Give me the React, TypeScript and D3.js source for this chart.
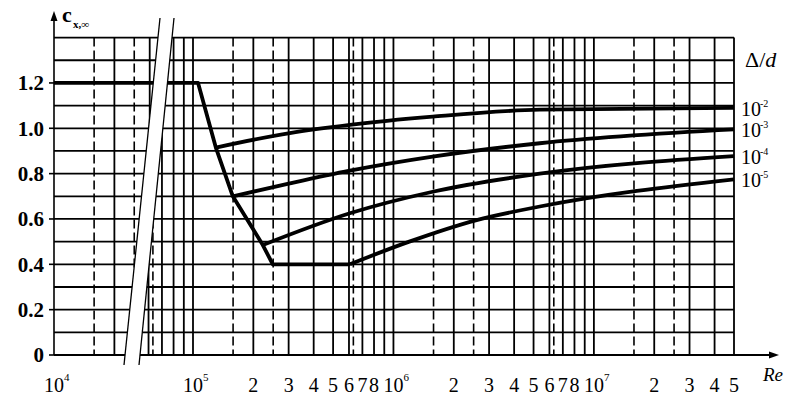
import React from 'react';
import * as d3 from 'd3';

// drag coefficient of a cylinder vs Reynolds number, for several relative roughness values

// smooth-part curve (left of the axis break, and the common descending branch)
const mainLeftRe = [1e4, 4e4];
const mainLeftCx = [1.2, 1.2];
const mainRe = [5e4, 1.06e5, 1.3e5, 1.58e5, 2.23e5, 2.5e5, 6.06e5];
const mainCx = [1.2, 1.2, 0.915, 0.7, 0.485, 0.4, 0.4];

// roughness branches Δ/d
const roughExp = ['-2', '-3', '-4', '-5'];
const roughRe = [
  [1.3e5, 3.04e5, 6.06e5, 1.57e6, 5.37e6, 5e7],
  [1.58e5, 3.04e5, 6.06e5, 1.57e6, 5.37e6, 5e7],
  [2.23e5, 6.06e5, 1.57e6, 5.37e6, 5e7],
  [6.06e5, 1.2e6, 2.6e6, 5.37e6, 5e7],
];
const roughCx = [
  [0.915, 0.979, 1.015, 1.051, 1.082, 1.09],
  [0.7, 0.757, 0.813, 0.875, 0.934, 0.995],
  [0.485, 0.625, 0.72, 0.8, 0.877],
  [0.4, 0.5, 0.595, 0.655, 0.775],
];

// axis ticks
const yTickVals = [0, 0.2, 0.4, 0.6, 0.8, 1.0, 1.2];
const yTickText = ['0', '0.2', '0.4', '0.6', '0.8', '1.0', '1.2'];
const yGridVals = [0, 0.1, 0.2, 0.3, 0.4, 0.5, 0.6, 0.7, 0.8, 0.9, 1.0, 1.1, 1.2, 1.3, 1.4];
const mantissas = [1, 2, 3, 4, 5, 6, 7, 8, 9];
const dashedFrac = [0.2, 0.4, 0.8];
const decades = [4, 5, 6, 7];
const leftLabelVals = [1e4];
const leftLabelText = ['10'];
const leftLabelSup = ['4'];
const rightLabelVals = [1e5, 2e5, 3e5, 4e5, 5e5, 6e5, 7e5, 8e5, 1e6, 2e6, 3e6, 4e6, 5e6, 6e6, 7e6, 8e6, 1e7, 2e7, 3e7, 4e7, 5e7];
const rightLabelText = ['10', '2', '3', '4', '5', '6', '7', '8', '10', '2', '3', '4', '5', '6', '7', '8', '10', '2', '3', '4', '5'];
const rightLabelSup = ['5', '', '', '', '', '', '', '', '6', '', '', '', '', '', '', '', '7', '', '', '', ''];

const FONT = "'Liberation Serif', 'Times New Roman', 'DejaVu Serif', serif";
const tf = { fontFamily: FONT };

const App: React.FC = () => {
  const W = 804;
  const H = 407;

  const xL = d3.scaleLog().domain([1e4, 1e5]).range([54, 254.6]);
  const xR = d3.scaleLog().domain([1e5, 5e7]).range([193, 734]);
  const y = d3.scaleLinear().domain([0, 1.4]).range([355, 37.6]);

  const x0 = xL(1e4);
  const xEnd = xR(5e7);
  const yTop = y(1.4);
  const yBot = y(0);

  // the two slanted lines of the axis break
  const b1 = { xa: 124, ya: 365, xb: 160, yb: 18 };
  const b2 = { xa: 139, ya: 365, xb: 174, yb: 18 };
  const xAt = (b: typeof b1, yy: number) => b.xa + ((b.xb - b.xa) * (yy - b.ya)) / (b.yb - b.ya);

  const mkLine = (sx: (v: number) => number, curve = d3.curveMonotoneX) =>
    d3.line<[number, number]>().x(d => sx(d[0])).y(d => y(d[1])).curve(curve);

  const zip = (a: number[], b: number[]) => a.map((v, i) => [v, b[i]] as [number, number]);

  const leftSolid = mantissas.map(m => m * 1e4).filter(v => v > 1e4 && v < 5e4);
  const leftDashed = dashedFrac.map(f => Math.pow(10, 4 + f));
  const rightSolid: number[] = [];
  const rightDashed: number[] = [];
  decades.forEach(d => {
    mantissas.forEach(m => {
      const v = m * Math.pow(10, d);
      if (v >= 5e4 && v <= 5e7) rightSolid.push(v);
    });
    dashedFrac.forEach(f => {
      const v = Math.pow(10, d + f);
      if (v >= 5e4 && v <= 5e7) rightDashed.push(v);
    });
  });

  const gridW = 1.8;
  const curveW = 3.8;

  return (
    <svg
      width={W}
      height={H}
      viewBox={`0 0 ${W} ${H}`}
      style={{ position: 'absolute', left: 0, top: 0, background: '#fff' }}
    >
      <defs>
        <clipPath id="clipL">
          <path d={`M0,0 L${xAt(b1, 0)},0 L${xAt(b1, H)},${H} L0,${H} Z`} />
        </clipPath>
        <clipPath id="clipR">
          <path d={`M${xAt(b2, 0)},0 L${W},0 L${W},${H} L${xAt(b2, H)},${H} Z`} />
        </clipPath>
      </defs>
      <rect width={W} height={H} fill="#fff" />

      {/* left part of the broken axis */}
      <g clipPath="url(#clipL)" stroke="#000">
        {yGridVals.map(v => (
          <line key={'hl' + v} x1={x0} x2={200} y1={y(v)} y2={y(v)} strokeWidth={gridW} />
        ))}
        {leftSolid.map(v => (
          <line key={'vl' + v} x1={xL(v)} x2={xL(v)} y1={yTop} y2={yBot} strokeWidth={gridW} />
        ))}
        {leftDashed.map(v => (
          <line key={'dl' + v} x1={xL(v)} x2={xL(v)} y1={yTop} y2={yBot} strokeWidth={1.6} strokeDasharray="9 4" />
        ))}
        <path d={mkLine(xL)(zip(mainLeftRe, mainLeftCx)) || ''} fill="none" strokeWidth={curveW} />
      </g>

      {/* right part */}
      <g clipPath="url(#clipR)" stroke="#000">
        {yGridVals.map(v => (
          <line key={'hr' + v} x1={100} x2={v === 0 ? 772 : xEnd} y1={y(v)} y2={y(v)} strokeWidth={gridW} />
        ))}
        {rightSolid.map(v => (
          <line key={'vr' + v} x1={xR(v)} x2={xR(v)} y1={yTop} y2={yBot} strokeWidth={gridW} />
        ))}
        {rightDashed.map(v => (
          <line key={'dr' + v} x1={xR(v)} x2={xR(v)} y1={yTop} y2={yBot} strokeWidth={1.6} strokeDasharray="9 4" />
        ))}
        <path
          d={mkLine(xR, d3.curveLinear)(zip(mainRe, mainCx)) || ''}
          fill="none"
          strokeWidth={curveW}
          strokeLinejoin="round"
        />
        {roughRe.map((r, i) => (
          <path key={'c' + i} d={mkLine(xR)(zip(r, roughCx[i])) || ''} fill="none" strokeWidth={curveW} />
        ))}
      </g>

      {/* break lines */}
      <line x1={b1.xa} y1={b1.ya} x2={b1.xb} y2={b1.yb} stroke="#000" strokeWidth={1.3} />
      <line x1={b2.xa} y1={b2.ya} x2={b2.xb} y2={b2.yb} stroke="#000" strokeWidth={1.3} />

      {/* y axis with arrow */}
      <line x1={x0} x2={x0} y1={yBot} y2={18} stroke="#000" strokeWidth={1.6} />
      <path d={`M${x0},11 L${x0 - 3.5},21 L${x0 + 3.5},21 Z`} fill="#000" />
      {/* x axis arrow */}
      <path d={`M779,${yBot} L769,${yBot - 3.5} L769,${yBot + 3.5} Z`} fill="#000" />

      {/* y ticks and labels */}
      {yTickVals.map((v, i) => (
        <g key={'yt' + v}>
          <line x1={x0 - 5} x2={x0} y1={y(v)} y2={y(v)} stroke="#000" strokeWidth={1.6} />
          <text x={44} y={y(v)} dy="0.35em" textAnchor="end" fontSize={21} fontWeight="bold" style={tf}>
            {yTickText[i]}
          </text>
        </g>
      ))}

      {/* x labels */}
      {leftLabelVals.map((v, i) => (
        <g key={'xl' + v}>
          <text x={xL(v)} y={392} textAnchor="middle" fontSize={20} style={tf}>{leftLabelText[i]}</text>
          <text x={xL(v) + 10} y={381} fontSize={11} style={tf}>{leftLabelSup[i]}</text>
        </g>
      ))}
      {rightLabelVals.map((v, i) => (
        <g key={'xr' + v}>
          <text x={xR(v)} y={392} textAnchor="middle" fontSize={20} style={tf}>{rightLabelText[i]}</text>
          {rightLabelSup[i] && (
            <text x={xR(v) + 10} y={381} fontSize={11} style={tf}>{rightLabelSup[i]}</text>
          )}
        </g>
      ))}
      <text x={763} y={381} fontSize={19} fontStyle="italic" style={tf}>Re</text>

      {/* y axis title */}
      <text x={62} y={22} fontSize={22} fontWeight="bold" style={tf}>c</text>
      <text x={73} y={28} fontSize={11} fontWeight="bold" style={tf}>x,∞</text>

      {/* legend */}
      <text x={745} y={67} fontSize={22} style={tf}>
        Δ/<tspan fontStyle="italic">d</tspan>
      </text>
      {roughExp.map((e, i) => {
        const endCx = roughCx[i][roughCx[i].length - 1];
        const yy = y(endCx) + 8;
        return (
          <g key={'lg' + e}>
            <text x={741} y={yy} fontSize={20} style={tf}>10</text>
            <text x={760} y={yy - 9} fontSize={10} style={tf}>{e}</text>
          </g>
        );
      })}
    </svg>
  );
};

export default App;
